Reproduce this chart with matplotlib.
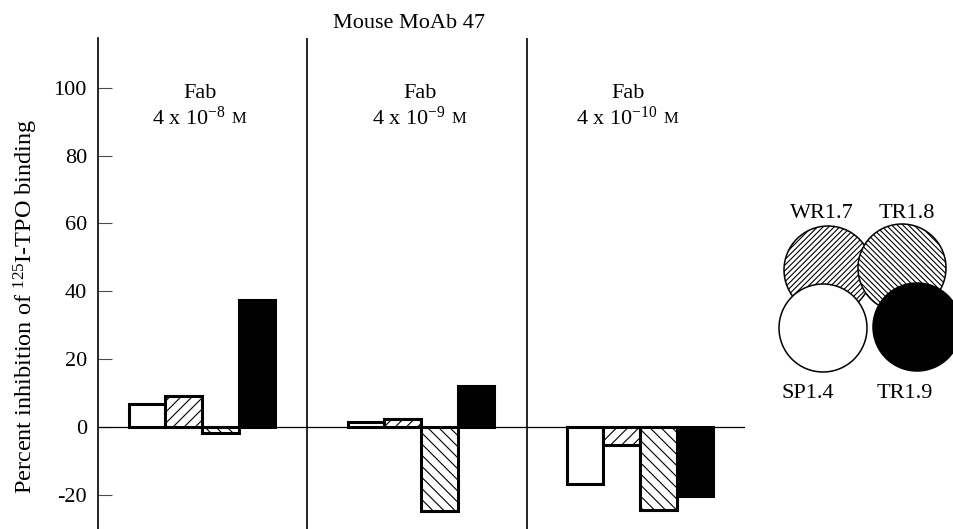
import matplotlib
matplotlib.use('Agg')
import matplotlib.pyplot as plt
from matplotlib.patches import Circle
import numpy as np

plt.rcParams['font.family'] = ['Liberation Serif', 'DejaVu Serif']
plt.rcParams['mathtext.fontset'] = 'custom'
plt.rcParams['mathtext.rm'] = 'Liberation Serif'
plt.rcParams['mathtext.it'] = 'Liberation Serif:italic'
plt.rcParams['axes.unicode_minus'] = False
plt.rcParams['hatch.linewidth'] = 0.8

# data
clones = ['SP1.4', 'WR1.7', 'TR1.8', 'TR1.9']
exponents = ['-8', '-9', '-10']
values = {
    'SP1.4': [6.7, 1.6, -16.8],
    'WR1.7': [9.2, 2.4, -5.4],
    'TR1.8': [-1.7, -24.7, -24.5],
    'TR1.9': [37.5, 12.2, -20.5],
}
yticks = [-20, 0, 20, 40, 60, 80, 100]

# look of each clone
faces = {'SP1.4': 'white', 'WR1.7': 'white', 'TR1.8': 'white', 'TR1.9': 'black'}
bar_hatch = {'SP1.4': None, 'WR1.7': '///', 'TR1.8': '\\\\\\', 'TR1.9': None}
circ_hatch = {'SP1.4': None, 'WR1.7': '//////', 'TR1.8': '\\\\\\\\\\\\', 'TR1.9': None}

fig = plt.figure(figsize=(9.54, 5.29), dpi=100)
ax = fig.add_axes([98/954, 0, (745-98)/954, (529-38)/529])

x = np.arange(len(exponents))
w = 0.1675
for i, c in enumerate(clones):
    ax.bar(x + (i - 1.5)*w, values[c], width=w, color=faces[c],
           edgecolor='black', hatch=bar_hatch[c], linewidth=2.2, zorder=3)

ax.set_xlim(-0.475, 2.479)
ax.set_ylim(-30.1, 114.7)
ax.axhline(0, color='black', lw=0.9, zorder=2)
for xd in [0.48, 1.485]:
    ax.axvline(xd, color='black', lw=1.2)

for s in ['top', 'right', 'bottom']:
    ax.spines[s].set_visible(False)
ax.spines['left'].set_linewidth(1.2)
ax.set_xticks([])
ax.set_yticks(yticks)
ax.tick_params(axis='y', direction='in', length=10, width=0.8, color='0.3',
               labelsize=16, pad=8)

ax.set_ylabel('Percent inhibition of $^{\\mathrm{125}}$I-TPO binding', fontsize=17.5)
ax.yaxis.set_label_coords(-0.09, 0.454)

# panel labels
offs = [-0.01, -0.005, -0.055]
for i, e in enumerate(exponents):
    ax.text(x[i] + offs[i], 98.2, 'Fab', ha='center', va='center', fontsize=16)
    t = ax.text(x[i] + offs[i] - 0.05, 91.1, '4 x 10$^{\\mathrm{' + e + '}}$',
                ha='center', va='center', fontsize=16)
    ax.annotate('M', xy=(1, 0), xycoords=t, xytext=(4, 2),
                textcoords='offset points', ha='left', va='bottom', fontsize=12)

fig.text(409/954, 1 - 23/529, 'Mouse MoAb 47', ha='center', va='center', fontsize=16)

# circle key on the right, in pixel coords
kx = fig.add_axes([0, 0, 1, 1])
kx.set_xlim(0, 954)
kx.set_ylim(529, 0)
kx.axis('off')
centres = {'WR1.7': (828, 270), 'TR1.8': (902, 268), 'SP1.4': (823, 328), 'TR1.9': (917, 327)}
labpos = {'WR1.7': (822, 214), 'TR1.8': (907, 214), 'SP1.4': (808, 394), 'TR1.9': (905, 394)}
for c in ['WR1.7', 'TR1.8', 'SP1.4', 'TR1.9']:
    kx.add_patch(Circle(centres[c], 44, facecolor=faces[c], edgecolor='black',
                        hatch=circ_hatch[c], lw=1.1))
    kx.text(labpos[c][0], labpos[c][1], c, ha='center', va='center', fontsize=16)

fig.savefig('out.png', dpi=100)
